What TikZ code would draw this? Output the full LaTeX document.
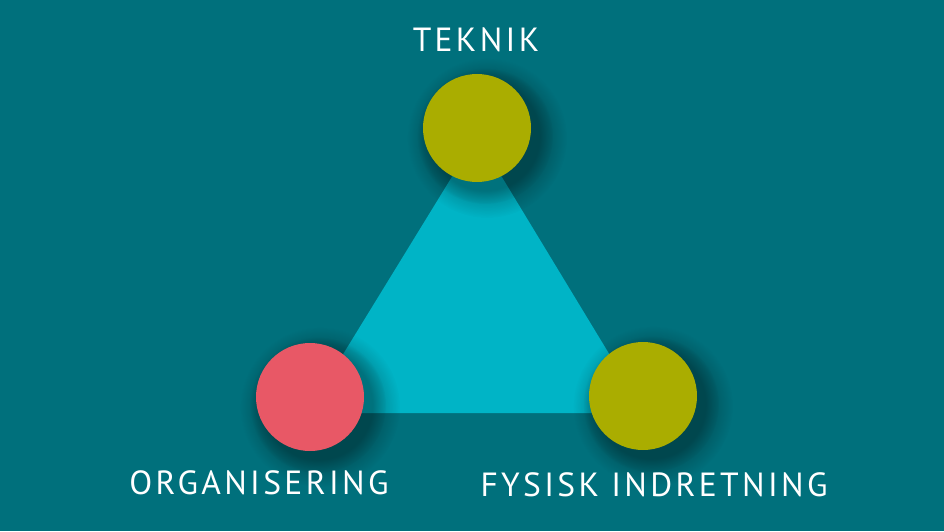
\documentclass[tikz,border=0pt]{standalone}
\usepackage{fontspec}
\newfontfamily\lblfont[LetterSpace=10]{PT Sans}
\usetikzlibrary{calc}
\usetikzlibrary{fadings}
\definecolor{bgteal}{HTML}{00707C}
\definecolor{tricyan}{HTML}{00B4C6}
\definecolor{olive}{HTML}{AAAD00}
\definecolor{rosered}{HTML}{E85866}

\begin{document}
\begin{tikzpicture}[x=1pt, y=1pt]
	\tikzstyle{ball}  = [circle, minimum size=108pt, inner sep=0pt]
	\tikzstyle{lbl}   = [text=white, font=\lblfont\fontsize{33.5}{38}\selectfont, inner sep=0pt]
	\tikzstyle{soft}  = [black, path fading=circle with fuzzy edge 20 percent]
	\fill[bgteal] (0, 0) rectangle (944, 531);
	\coordinate (t) at (477, 403);
	\coordinate (o) at (310, 134);
	\coordinate (f) at (643, 135);

	%%Triangle
	\fill[tricyan] ($(t) + (0, -8)$) -- ($(o) + (-3, -16)$) -- ($(f) + (2, -17)$) -- cycle;

	%%Shadows
	\foreach \c in {t, o, f} {
		\fill[soft, opacity=0.15] ($(\c) + (10, -10)$) circle (80pt);
		\fill[soft, opacity=0.25] ($(\c) + (8, -8)$) circle (68pt);
	}

	\node [ball, fill=olive](teknik) at (t) {};
	\node [ball, fill=rosered](org) at (o) {};
	\node [ball, fill=olive](fysisk) at (f) {};

	%%Labels
	\node [lbl](lt) at (476, 491) {TEKNIK};
	\node [lbl](lo) at (259, 48) {ORGANISERING};
	\node [lbl](lf) at (654, 46) {FYSISK INDRETNING};
\end{tikzpicture}
\end{document}
